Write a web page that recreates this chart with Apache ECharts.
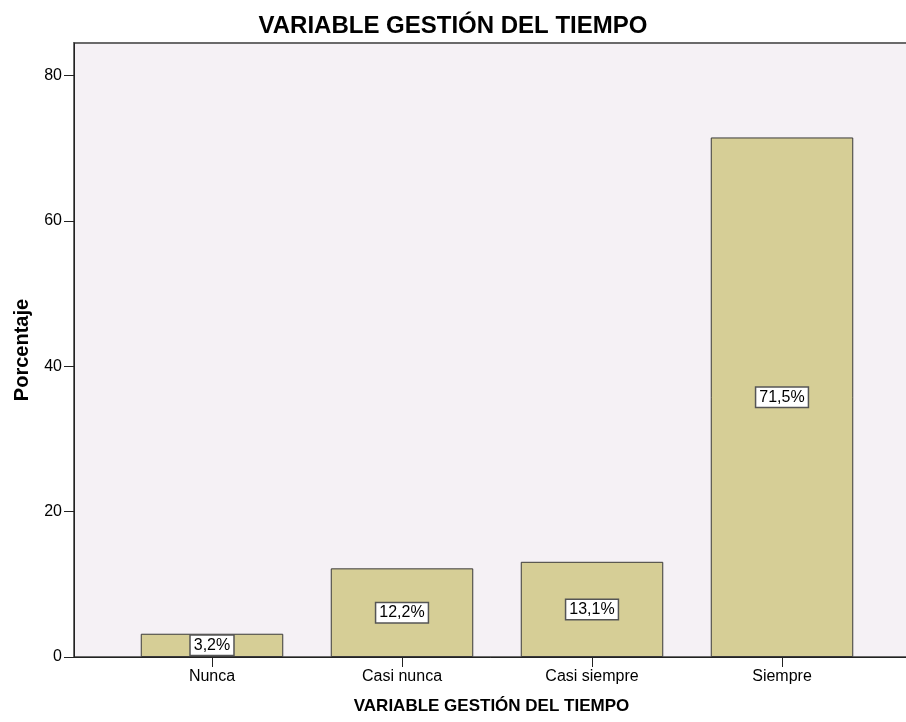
<!DOCTYPE html>
<html><head><meta charset="utf-8">
<script src="https://cdn.jsdelivr.net/npm/echarts@6/dist/echarts.min.js"></script>
<style>html,body{margin:0;padding:0;background:#fff}#c{width:906px;height:722px}</style>
</head><body><div id="c"></div>
<script>
const categories = ['Nunca', 'Casi nunca', 'Casi siempre', 'Siempre'];
const values = [3.2, 12.2, 13.1, 71.5];
const yTicks = [0, 20, 40, 60, 80];
const titleText = 'VARIABLE GESTIÓN DEL TIEMPO';
const yName = 'Porcentaje';

const chart = echarts.init(document.getElementById('c'), null, {renderer: 'canvas'});
const font = 'Arial, "Liberation Sans", sans-serif';
const yMax = 84.5;
chart.setOption({
  animation: false,
  textStyle: {fontFamily: font},
  title: {text: titleText, left: 'center', top: 9,
    textStyle: {fontFamily: font, fontSize: 24, fontWeight: 'bold', color: '#000'}},
  grid: [
    {left: 74, right: -3, top: 43, bottom: 65, show: true, backgroundColor: '#f5f1f5',
      borderWidth: 2, borderColor: '#6a6a6a', containLabel: false, outerBoundsMode: 'none'},
    {left: 117, right: 29, top: 43, bottom: 65, containLabel: false, outerBoundsMode: 'none'}
  ],
  xAxis: [
    {gridIndex: 0, type: 'value', min: 0, max: 1, show: true,
      axisLine: {show: true, onZero: false, lineStyle: {color: '#222', width: 1}},
      axisTick: {show: false}, axisLabel: {show: false}, splitLine: {show: false},
      name: titleText, nameLocation: 'middle', nameGap: 41,
      nameTextStyle: {fontFamily: font, fontSize: 17, fontWeight: 'bold', color: '#000'}},
    {gridIndex: 1, type: 'category', data: categories, position: 'bottom',
      axisLine: {show: false},
      axisTick: {show: true, alignWithLabel: true, length: 10, lineStyle: {color: '#222'}},
      axisLabel: {fontSize: 16, color: '#000', margin: 12, fontFamily: font}}
  ],
  yAxis: [
    {gridIndex: 0, type: 'value', min: 0, max: yMax, interval: 20,
      axisLine: {show: true, lineStyle: {color: '#222', width: 1}},
      axisTick: {show: true, length: 10, customValues: yTicks, lineStyle: {color: '#222'}},
      axisLabel: {fontSize: 16, color: '#000', margin: 12, fontFamily: font, customValues: yTicks,
        formatter: v => yTicks.includes(v) ? String(v) : ''},
      splitLine: {show: false},
      name: yName, nameLocation: 'middle', nameGap: 42, nameRotate: 90,
      nameTextStyle: {fontFamily: font, fontSize: 20, fontWeight: 'bold', color: '#000'}},
    {gridIndex: 1, type: 'value', min: 0, max: yMax, show: false}
  ],
  series: [{
    type: 'bar', xAxisIndex: 1, yAxisIndex: 1, data: values,
    barCategoryGap: '25%',
    itemStyle: {color: '#d6ce96', borderColor: '#3a3a3a', borderWidth: 1},
    label: {show: true, position: 'inside', formatter: p => String(p.value).replace('.', ',') + '%',
      fontSize: 16, color: '#000', fontFamily: font,
      backgroundColor: '#fff', borderColor: '#555', borderWidth: 1.5, padding: [2, 3, 1, 3]}
  }]
});
</script></body></html>
